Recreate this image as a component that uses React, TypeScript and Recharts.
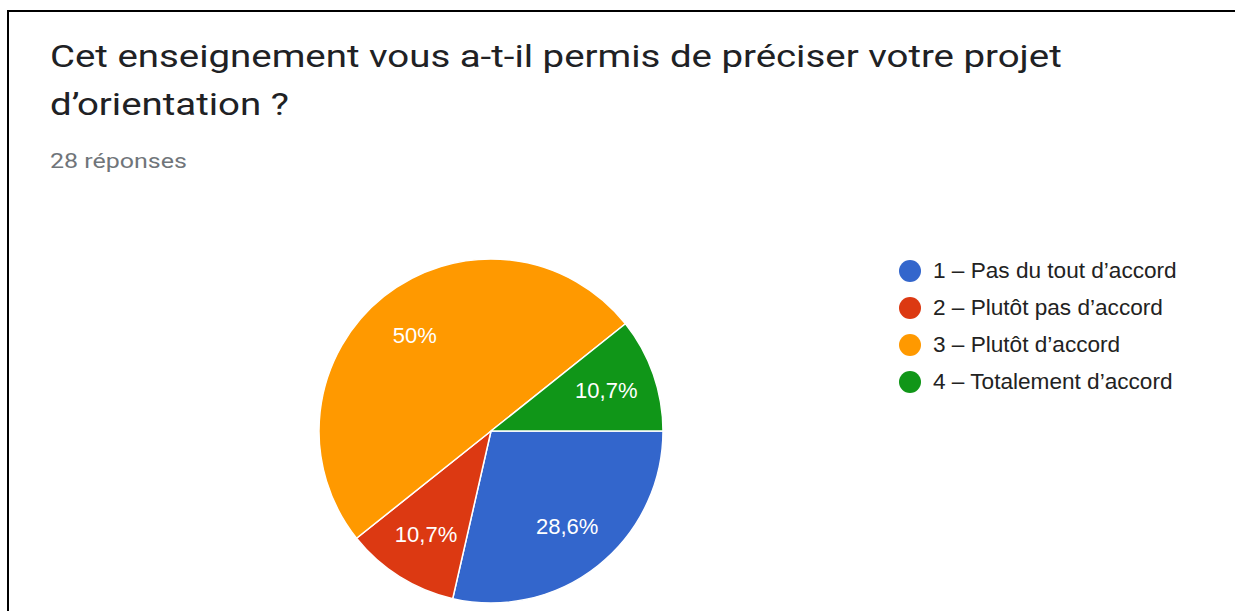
import React from "react";
import { PieChart, Pie, Cell, Legend } from "recharts";

const categories = [
  "1 – Pas du tout d’accord",
  "2 – Plutôt pas d’accord",
  "3 – Plutôt d’accord",
  "4 – Totalement d’accord",
];
const counts = [8, 3, 14, 3];
const labels = ["28,6%", "10,7%", "50%", "10,7%"];
const colors = ["#3366cc", "#dc3912", "#ff9900", "#109618"];

const title1 = "Cet enseignement vous a-t-il permis de préciser votre projet";
const title2 = "d’orientation ?";
const subtitle = "28 réponses";

const data = categories.map((name, i) => ({ name, value: counts[i], label: labels[i], color: colors[i] }));

const RAD = Math.PI / 180;
const renderLabel = (props: any) => {
  const { cx, cy, midAngle, outerRadius, index } = props;
  const r = outerRadius * 0.71;
  const x = cx + r * Math.cos(-midAngle * RAD);
  const y = cy + r * Math.sin(-midAngle * RAD);
  return (
    <text
      x={x}
      y={y}
      fill="#ffffff"
      textAnchor="middle"
      dominantBaseline="central"
      fontFamily="'Liberation Sans', Arial, sans-serif"
      fontSize={22}
    >
      {data[index].label}
    </text>
  );
};

const renderLegend = () => (
  <div style={{ fontFamily: "'Liberation Sans', Arial, sans-serif", fontSize: 22.6, color: "#222222" }}>
    {data.map((d) => (
      <div key={d.name} style={{ display: "flex", alignItems: "center", height: 37 }}>
        <span
          style={{
            display: "inline-block",
            flex: "none",
            width: 22,
            height: 22,
            borderRadius: 11,
            background: d.color,
            marginRight: 12,
          }}
        />
        <span style={{ whiteSpace: "nowrap" }}>{d.name}</span>
      </div>
    ))}
  </div>
);

export default function App() {
  return (
    <div style={{ position: "absolute", left: 0, top: 0, width: 1235, height: 611, background: "#fff", overflow: "hidden" }}>
      <div
        style={{
          position: "absolute",
          left: 7,
          top: 10,
          width: 1300,
          height: 700,
          borderLeft: "2.5px solid #000",
          borderTop: "2.5px solid #000",
        }}
      />
      <div
        style={{
          position: "absolute",
          left: 50,
          top: 32,
          fontFamily: "Roboto, sans-serif",
          fontSize: 32,
          lineHeight: "48px",
          color: "#202124",
          whiteSpace: "nowrap",
          transform: "scaleX(1.2)",
          transformOrigin: "0 0",
        }}
      >
        <div>{title1}</div>
        <div>{title2}</div>
      </div>
      <div
        style={{
          position: "absolute",
          left: 50,
          top: 149,
          fontFamily: "Roboto, sans-serif",
          fontSize: 21,
          color: "#70757a",
          whiteSpace: "nowrap",
          transform: "scaleX(1.19)",
          transformOrigin: "0 0",
        }}
      >
        {subtitle}
      </div>
      <div style={{ position: "absolute", left: 0, top: 0 }}>
        <PieChart width={1235} height={611} margin={{ top: 0, right: 0, bottom: 0, left: 0 }}>
          <Pie
            data={data}
            dataKey="value"
            nameKey="name"
            cx={491}
            cy={431}
            outerRadius={172}
            startAngle={0}
            endAngle={-360}
            stroke="#ffffff"
            strokeWidth={1.5}
            label={renderLabel}
            labelLine={false}
            isAnimationActive={false}
          >
            {data.map((d) => (
              <Cell key={d.name} fill={d.color} />
            ))}
          </Pie>
          <Legend
            content={renderLegend}
            layout="vertical"
            verticalAlign="top"
            align="right"
            wrapperStyle={{ position: "absolute", left: 899, top: 252, width: 320 }}
          />
        </PieChart>
      </div>
    </div>
  );
}
